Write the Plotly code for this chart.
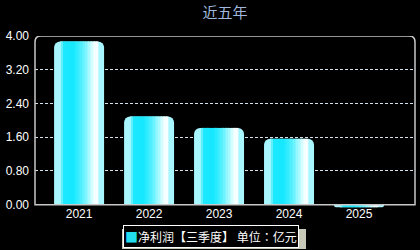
import plotly.graph_objects as go

years = ["2021", "2022", "2023", "2024", "2025"]
values = [3.87, 2.09, 1.82, 1.56, -0.06]
y_ticks = [0.0, 0.8, 1.6, 2.4, 3.2, 4.0]
y_tick_labels = ["0.00", "0.80", "1.60", "2.40", "3.20", "4.00"]
series_name = "净利润【三季度】 单位：亿元"
title_text = "近五年"
series_color = "#22ddee"

# horizontal gradient profile of each bar (position across bar, rgb)
profile = [
    (0.00, (128, 240, 255)),
    (0.06, (255, 255, 255)),
    (0.12, (190, 250, 255)),
    (0.20, (30, 232, 255)),
    (0.40, (20, 232, 255)),
    (0.60, (100, 242, 255)),
    (0.80, (232, 255, 255)),
    (0.86, (255, 255, 255)),
    (0.93, (140, 244, 255)),
    (1.00, (50, 232, 255)),
]


def color_at(t):
    for (t0, c0), (t1, c1) in zip(profile[:-1], profile[1:]):
        if t0 <= t <= t1:
            f = (t - t0) / (t1 - t0)
            c = [round(a + (b - a) * f) for a, b in zip(c0, c1)]
            return "rgb(%d,%d,%d)" % tuple(c)
    return "rgb(%d,%d,%d)" % profile[-1][1]


W = 50 / 70.0
fig = go.Figure()

# base rounded bar
fig.add_trace(go.Bar(
    x=years, y=values, width=W, offset=-W / 2,
    marker=dict(color="#a8f6ff", line=dict(width=0), cornerradius=6),
    name=series_name, showlegend=False, hoverinfo="skip",
))

N = 24
t_start, t_end = 0.12, 0.88
step = (t_end - t_start) / N
for i in range(N):
    t0 = t_start + i * step
    fig.add_trace(go.Bar(
        x=years, y=values, width=step * W + 0.004, offset=-W / 2 + t0 * W,
        marker=dict(color=color_at(t0 + step / 2), line=dict(width=0)),
        showlegend=False, hoverinfo="skip",
    ))

rx = 6 / 380.0
ry = 6 / 42.16
frame = (f"M 0,0 L 0,{4 - ry} Q 0,4 {rx},4 L {1 - rx},4 Q 1,4 1,{4 - ry} "
         f"L 1,0 Z")

# plot area: y pixels 36..208 (172 px); x pixels 35..415 (380 px)
def px_x(p):
    return (p - 35) / 380.0


def px_y(p):
    return (208 - p) / 172.0


legend_label = series_name.replace(
    "：", '<span style="font-family:Noto Sans CJK TC">：</span>')
legend_text = (f'<span style="color:{series_color};font-size:13px">■</span>'
               f'{legend_label}')

fig.update_layout(
    width=420, height=250,
    paper_bgcolor="black", plot_bgcolor="black",
    margin=dict(l=35, r=5, t=36, b=42),
    barmode="overlay",
    showlegend=False,
    title=dict(text=title_text, x=0.5, xref="paper", xanchor="center",
               y=1 - 13 / 250, yref="container", yanchor="middle",
               font=dict(family="Noto Sans CJK SC", size=15, color="#9fb8dc")),
    xaxis=dict(range=[-0.63, 4.8], showgrid=False, zeroline=False,
               showline=False, ticks="", ticklabelstandoff=-3,
               tickfont=dict(family="Liberation Sans", size=12, color="white")),
    yaxis=dict(range=[-0.08, 4.0], tickvals=y_ticks, ticktext=y_tick_labels,
               showgrid=True, gridcolor="#d4e2ee", griddash="3px,2px",
               gridwidth=1, zeroline=False, showline=False, ticks="",
               ticklabelstandoff=5,
               tickfont=dict(family="Liberation Sans", size=12, color="white")),
    shapes=[
        dict(type="path", path=frame, xref="paper", yref="y",
             line=dict(color="#c8c8c8", width=1.5), layer="above"),
        dict(type="rect", xref="paper", yref="paper",
             x0=px_x(122), x1=px_x(306), y0=px_y(249), y1=px_y(229),
             fillcolor="#c8c8b8", line=dict(width=0), layer="above"),
    ],
    annotations=[
        dict(text=legend_text, xref="paper", yref="paper",
             x=px_x(211), y=px_y(236), xanchor="center", yanchor="middle",
             showarrow=False, bgcolor="black", bordercolor="white",
             borderwidth=1, borderpad=1,
             font=dict(family="Noto Sans CJK SC", size=12, color="white")),
    ],
)

fig.write_html("out.html")
